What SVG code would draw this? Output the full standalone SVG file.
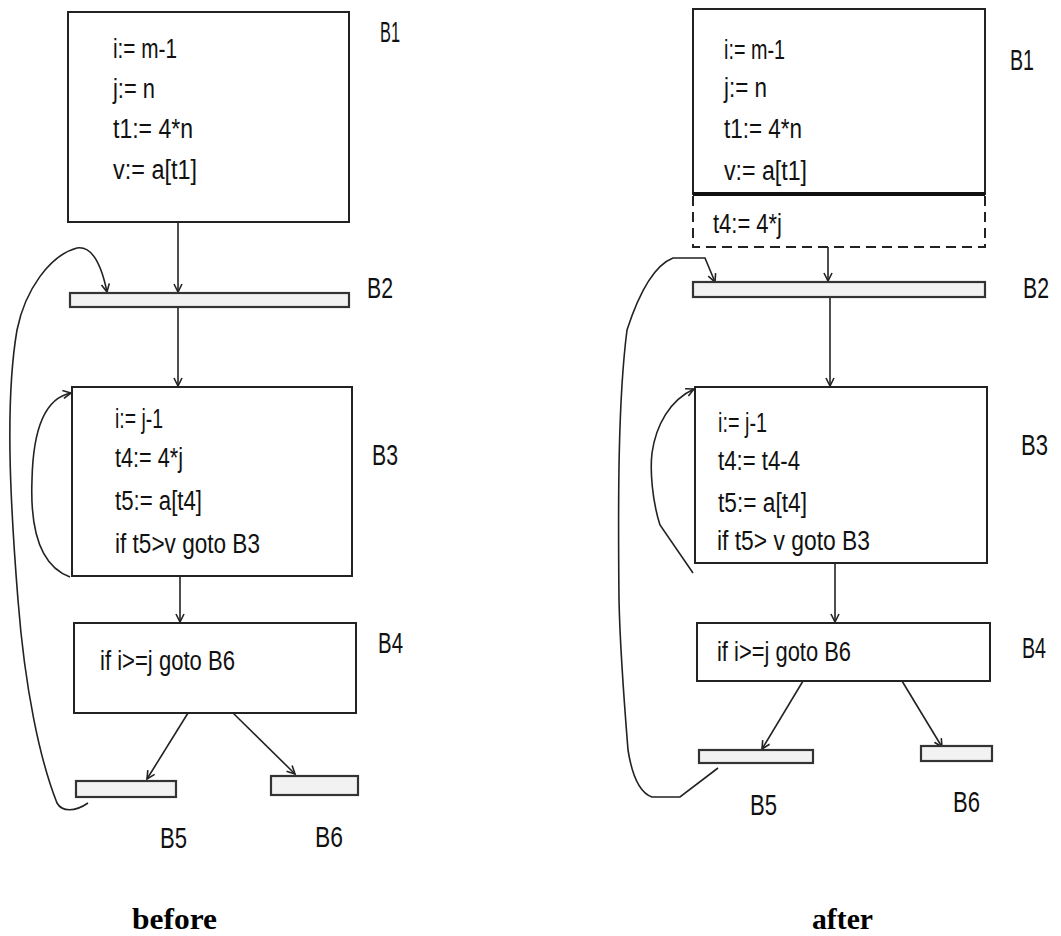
<svg xmlns="http://www.w3.org/2000/svg" width="1061" height="936" viewBox="0 0 1061 936">
<defs>
<style>
.box{fill:#fff;stroke:#222;stroke-width:2}
.bar{fill:#f2f2f2;stroke:#333;stroke-width:2.2}
.code{font-family:"Liberation Sans",Arial,sans-serif;font-size:27px;fill:#111}
.lbl{font-family:"Liberation Sans",Arial,sans-serif;font-size:30px;fill:#111}
.cap{font-family:"Liberation Serif","Times New Roman",serif;font-size:29px;font-weight:bold;fill:#000}
.edge{fill:none;stroke:#222;stroke-width:1.6;marker-end:url(#arr)}
.dash{fill:none;stroke:#222;stroke-width:2;stroke-dasharray:10 6}
</style>
<marker id="arr" markerWidth="12" markerHeight="12" refX="0" refY="0" viewBox="-10 -6 12 12" orient="auto" markerUnits="userSpaceOnUse">
<path d="M-8,-4 L0,0 L-8,4" fill="none" stroke="#222" stroke-width="1.6"/>
</marker>
</defs>
<rect width="1061" height="936" fill="#fff"/>

<g id="connectors">
<path class="edge" d="M178,222 V292"/>
<path class="edge" d="M178,307 V386"/>
<path class="edge" d="M70,577 C40,566 30,530 32,480 C33,430 45,398 71,393"/>
<path class="edge" d="M180,576 V622"/>
<path class="edge" d="M188,713 L147,779"/>
<path class="edge" d="M233,713 L295,774"/>
<path class="edge" d="M88,803 C75,812 62,812 57,803 C40,760 25,690 18,600 C10,500 5,400 17,330 C25,290 50,255 77,248 C90,246 100,258 107,292"/>
<path class="edge" d="M828,247 V281"/>
<path class="edge" d="M830,297 V386"/>
<path class="edge" d="M693,573 L660,525 C652,500 650,470 652,453 C656,425 670,400 694,389"/>
<path class="edge" d="M835,563 V622"/>
<path class="edge" d="M803,681 L762,749"/>
<path class="edge" d="M902,681 L942,747"/>
<path class="edge" d="M718,768 L680,797 L652,797 C640,793 632,775 628,750 C624,700 620,650 619,600 C618,500 618,400 627,330 C640,290 655,265 673,258 L705,258 L715,282"/>
</g>

<g id="before-B1">
<rect class="box" x="68" y="12" width="281" height="210"/>
<text class="code" x="113" y="58" textLength="64" lengthAdjust="spacingAndGlyphs">i:= m-1</text>
<text class="code" x="113" y="98" textLength="42" lengthAdjust="spacingAndGlyphs">j:= n</text>
<text class="code" x="113" y="138" textLength="80" lengthAdjust="spacingAndGlyphs">t1:= 4*n</text>
<text class="code" x="113" y="179" textLength="84" lengthAdjust="spacingAndGlyphs">v:= a[t1]</text>
<text class="lbl" x="380" y="42" textLength="20" lengthAdjust="spacingAndGlyphs">B1</text>
</g>
<g id="before-B2">
<rect class="bar" x="70" y="293" width="279" height="14"/>
<text class="lbl" x="367" y="298" textLength="26" lengthAdjust="spacingAndGlyphs">B2</text>
</g>
<g id="before-B3">
<rect class="box" x="72" y="387" width="280" height="189"/>
<text class="code" x="115" y="428" textLength="48" lengthAdjust="spacingAndGlyphs">i:= j-1</text>
<text class="code" x="115" y="467" textLength="68" lengthAdjust="spacingAndGlyphs">t4:= 4*j</text>
<text class="code" x="115" y="510" textLength="87" lengthAdjust="spacingAndGlyphs">t5:= a[t4]</text>
<text class="code" x="115" y="553" textLength="145" lengthAdjust="spacingAndGlyphs">if t5&gt;v goto B3</text>
<text class="lbl" x="372" y="465" textLength="26" lengthAdjust="spacingAndGlyphs">B3</text>
</g>
<g id="before-B4">
<rect class="box" x="74" y="623" width="282" height="90"/>
<text class="code" x="100" y="670" textLength="135" lengthAdjust="spacingAndGlyphs">if i&gt;=j goto B6</text>
<text class="lbl" x="378" y="653" textLength="25" lengthAdjust="spacingAndGlyphs">B4</text>
</g>
<g id="before-B5">
<rect class="bar" x="76" y="781" width="100" height="16"/>
<text class="lbl" x="160" y="848" textLength="27" lengthAdjust="spacingAndGlyphs">B5</text>
</g>
<g id="before-B6">
<rect class="bar" x="271" y="776" width="87" height="19"/>
<text class="lbl" x="315" y="847" textLength="28" lengthAdjust="spacingAndGlyphs">B6</text>
</g>

<g id="after-B1">
<rect class="box" x="693" y="9" width="292" height="185"/>
<line x1="693" y1="194" x2="985" y2="194" stroke="#111" stroke-width="4"/>
<path class="dash" d="M693,196 V247 H985 V196"/>
<text class="code" x="724" y="59" textLength="61" lengthAdjust="spacingAndGlyphs">i:= m-1</text>
<text class="code" x="724" y="97" textLength="43" lengthAdjust="spacingAndGlyphs">j:= n</text>
<text class="code" x="724" y="138" textLength="78" lengthAdjust="spacingAndGlyphs">t1:= 4*n</text>
<text class="code" x="724" y="180" textLength="83" lengthAdjust="spacingAndGlyphs">v:= a[t1]</text>
<text class="code" x="713" y="233" textLength="69" lengthAdjust="spacingAndGlyphs">t4:= 4*j</text>
<text class="lbl" x="1010" y="70" textLength="24" lengthAdjust="spacingAndGlyphs">B1</text>
</g>
<g id="after-B2">
<rect class="bar" x="693" y="282" width="292" height="15"/>
<text class="lbl" x="1023" y="298" textLength="26" lengthAdjust="spacingAndGlyphs">B2</text>
</g>
<g id="after-B3">
<rect class="box" x="695" y="387" width="292" height="176"/>
<text class="code" x="718" y="432" textLength="49" lengthAdjust="spacingAndGlyphs">i:= j-1</text>
<text class="code" x="718" y="470" textLength="82" lengthAdjust="spacingAndGlyphs">t4:= t4-4</text>
<text class="code" x="718" y="512" textLength="89" lengthAdjust="spacingAndGlyphs">t5:= a[t4]</text>
<text class="code" x="717" y="550" textLength="153" lengthAdjust="spacingAndGlyphs">if t5&gt; v goto B3</text>
<text class="lbl" x="1021" y="455" textLength="27" lengthAdjust="spacingAndGlyphs">B3</text>
</g>
<g id="after-B4">
<rect class="box" x="697" y="623" width="293" height="58"/>
<text class="code" x="717" y="661" textLength="134" lengthAdjust="spacingAndGlyphs">if i&gt;=j goto B6</text>
<text class="lbl" x="1022" y="658" textLength="24" lengthAdjust="spacingAndGlyphs">B4</text>
</g>
<g id="after-B5">
<rect class="bar" x="699" y="750" width="114" height="13"/>
<text class="lbl" x="750" y="815" textLength="27" lengthAdjust="spacingAndGlyphs">B5</text>
</g>
<g id="after-B6">
<rect class="bar" x="921" y="746" width="71" height="15"/>
<text class="lbl" x="953" y="812" textLength="27" lengthAdjust="spacingAndGlyphs">B6</text>
</g>

<g id="captions">
<text class="cap" x="132" y="929" textLength="85" lengthAdjust="spacingAndGlyphs">before</text>
<text class="cap" x="812" y="929" textLength="61" lengthAdjust="spacingAndGlyphs">after</text>
</g>
</svg>
